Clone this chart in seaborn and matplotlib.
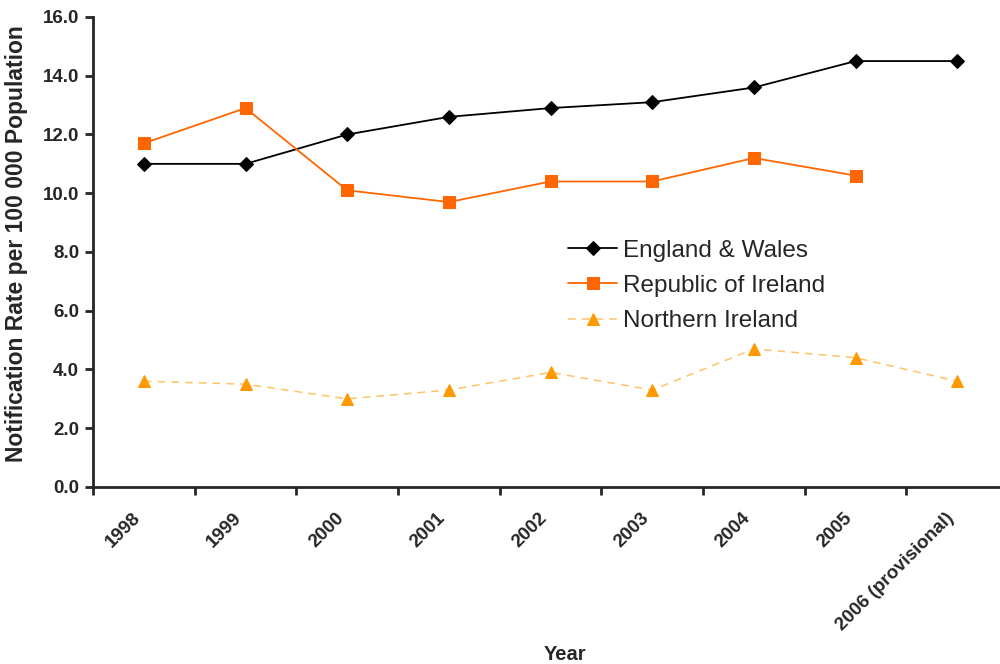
import matplotlib
matplotlib.use("Agg")
import matplotlib.pyplot as plt
import matplotlib.transforms as mtransforms
import seaborn as sns
import numpy as np
from matplotlib.ticker import FixedLocator, FormatStrFormatter

sns.set_style("ticks")
plt.rcParams["font.family"] = ["Liberation Sans", "DejaVu Sans"]

years = ["1998", "1999", "2000", "2001", "2002", "2003", "2004", "2005",
         "2006 (provisional)"]
england_wales = [11.0, 11.0, 12.0, 12.6, 12.9, 13.1, 13.6, 14.5, 14.5]
republic_ireland = [11.7, 12.9, 10.1, 9.7, 10.4, 10.4, 11.2, 10.6, np.nan]
northern_ireland = [3.6, 3.5, 3.0, 3.3, 3.9, 3.3, 4.7, 4.4, 3.6]

pos = np.arange(len(years))

fig = plt.figure(figsize=(10, 6.64), dpi=100)
ax = fig.add_axes([0.093, 0.2666, 0.907, 0.7078])

sns.lineplot(x=pos, y=england_wales, ax=ax, color="black", linewidth=1.3,
             marker="D", markersize=7, markeredgecolor="black",
             label="England & Wales")
sns.lineplot(x=pos, y=republic_ireland, ax=ax, color="#FF6600", linewidth=1.3,
             marker="s", markersize=9, markeredgecolor="#FF6600",
             label="Republic of Ireland")
sns.lineplot(x=pos, y=northern_ireland, ax=ax, color="#FFC266", linewidth=1.1,
             linestyle=(0, (5, 4)), marker="^", markersize=9,
             markerfacecolor="#FF9900", markeredgecolor="#FF9900",
             label="Northern Ireland")

ax.set_ylim(0, 16)
ax.set_xlim(-0.5, 8.42)
ax.set_yticks(np.arange(0, 16.1, 2))
ax.yaxis.set_major_formatter(FormatStrFormatter("%.1f"))

# category labels at centres, tick marks at category boundaries
ax.set_xticks(pos)
ax.set_xticklabels(years, rotation=45, ha="right", rotation_mode="anchor")
ax.xaxis.set_minor_locator(FixedLocator(np.arange(-0.5, 8.6, 1.0)))
ax.tick_params(axis="x", which="major", length=0, pad=16)
ax.tick_params(axis="x", which="minor", length=6, width=2, direction="out")
ax.tick_params(axis="y", length=6, width=2, direction="out", pad=4)

shift = mtransforms.ScaledTranslation(-12 / 100, 0, fig.dpi_scale_trans)
for lab in ax.get_xticklabels():
    lab.set_transform(lab.get_transform() + shift)
for lab in ax.get_xticklabels() + ax.get_yticklabels():
    lab.set_fontweight("bold")
    lab.set_fontsize(13.5)

for side in ["top", "right"]:
    ax.spines[side].set_visible(False)
for side in ["left", "bottom"]:
    ax.spines[side].set_linewidth(2)

ax.set_ylabel("Notification Rate per 100 000 Population", fontsize=16.5,
              fontweight="bold")
ax.yaxis.set_label_coords(-0.072, 0.517)
ax.set_xlabel("Year", fontsize=14.5, fontweight="bold")
ax.xaxis.set_label_coords(0.52, -0.337)

leg = ax.legend(loc="upper left", bbox_to_anchor=(0.5, 0.573), frameon=False,
                fontsize=17.5, handlelength=2.0, labelspacing=0.55,
                handletextpad=0.25)

fig.savefig("out.png", dpi=100)
